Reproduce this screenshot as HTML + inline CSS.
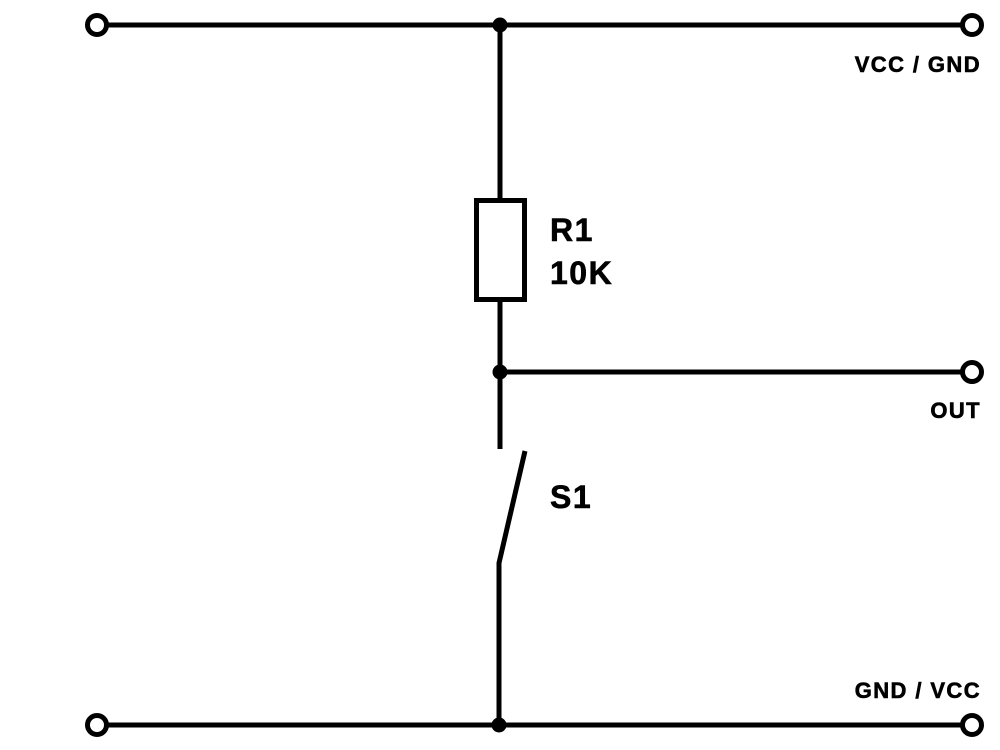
<!DOCTYPE html>
<html><head><style>body{margin:0;background:#fff}svg{display:block}</style></head><body>
<svg width="1000" height="750" xmlns="http://www.w3.org/2000/svg" font-family="Liberation Sans, Arial, sans-serif" font-weight="bold">
<g stroke="#000" stroke-width="5" fill="none">
<line x1="107" y1="25" x2="962" y2="25"/>
<line x1="107" y1="725" x2="962" y2="725"/>
<line x1="500" y1="25" x2="500" y2="200"/>
<rect x="476.5" y="200.5" width="48" height="99"/>
<line x1="500" y1="300" x2="500" y2="449"/>
<line x1="500" y1="372" x2="962" y2="372"/>
<polyline points="525,451 499,563 499,725"/>
<circle cx="97" cy="25" r="9.5" fill="#fff"/>
<circle cx="972" cy="25" r="9.5" fill="#fff"/>
<circle cx="972" cy="372" r="9.5" fill="#fff"/>
<circle cx="97" cy="725" r="9.5" fill="#fff"/>
<circle cx="972" cy="725" r="9.5" fill="#fff"/>
</g>
<circle cx="500" cy="25" r="7.5"/>
<circle cx="500" cy="372" r="7.5"/>
<circle cx="499" cy="725" r="7.5"/>
<g font-size="22" text-anchor="end" letter-spacing="1.4" stroke="#000" stroke-width="0.6">
<text x="981" y="72">VCC / GND</text>
<text x="981" y="418">OUT</text>
<text x="981" y="698">GND / VCC</text>
</g>
<g font-size="32" stroke="#000" stroke-width="0.6" letter-spacing="1.5">
<text x="550" y="241">R1</text>
<text x="550" y="284">10K</text>
<text x="550" y="508">S1</text>
</g>
</svg>
</body></html>
